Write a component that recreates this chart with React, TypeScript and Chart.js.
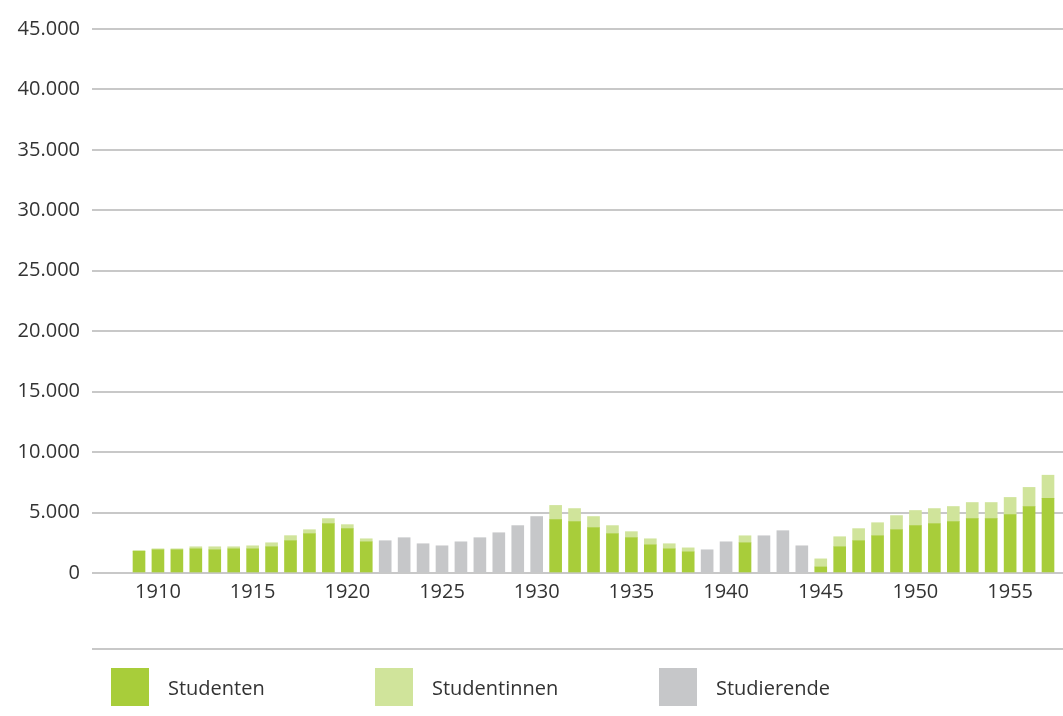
import React, { useEffect, useRef } from "react";
import { Chart, registerables } from "chart.js";

Chart.register(...registerables);

const years: number[] = [];
for (let y = 1909; y <= 1957; y++) years.push(y);

const studenten: (number | null)[] = [
  1800, 1920, 1920, 2000, 1920, 2000, 2000, 2170, 2670, 3250, 4080, 3670, 2580,
  null, null, null, null, null, null, null, null, null,
  4420, 4250, 3750, 3250, 2920, 2330, 2000, 1750,
  null, null, 2500, null, null, null,
  500, 2170, 2670, 3080, 3580, 3920, 4080, 4250, 4500, 4500, 4830, 5500, 6170,
];

const studentinnen: (number | null)[] = [
  50, 80, 80, 170, 250, 170, 250, 330, 420, 330, 420, 330, 250,
  null, null, null, null, null, null, null, null, null,
  1170, 1080, 920, 670, 500, 500, 420, 330,
  null, null, 580, null, null, null,
  670, 830, 1000, 1080, 1170, 1250, 1250, 1250, 1330, 1330, 1420, 1580, 1920,
];

const studierende: (number | null)[] = [
  null, null, null, null, null, null, null, null, null, null, null, null, null,
  2670, 2920, 2420, 2250, 2580, 2920, 3330, 3920, 4670,
  null, null, null, null, null, null, null, null,
  1920, 2580, null, 3080, 3500, 2250,
  null, null, null, null, null, null, null, null, null, null, null, null, null,
];

const xTickYears = [1910, 1915, 1920, 1925, 1930, 1935, 1940, 1945, 1950, 1955];

const seriesNames = ["Studenten", "Studentinnen", "Studierende"];
const seriesColors = ["#a8cd3a", "#d0e49b", "#c6c7c9"];

const FONT = "'Open Sans', 'DejaVu Sans', sans-serif";

function toPoints(arr: (number | null)[]) {
  const out: { x: number; y: number }[] = [];
  arr.forEach((v, i) => {
    if (v !== null) out.push({ x: years[i], y: v });
  });
  return out;
}

function fmt(v: number) {
  return String(v).replace(/\B(?=(\d{3})+(?!\d))/g, ".");
}

export default function App() {
  const ref = useRef<HTMLCanvasElement>(null);

  useEffect(() => {
    document.body.style.margin = "0";
    const ctx = ref.current!;
    const chart = new Chart(ctx, {
      type: "bar",
      data: {
        datasets: [studenten, studentinnen, studierende].map((arr, i) => ({
          label: seriesNames[i],
          data: toPoints(arr) as any,
          backgroundColor: seriesColors[i],
          borderWidth: 0,
          barThickness: 12,
        })),
      },
      options: {
        animation: false,
        responsive: false,
        maintainAspectRatio: false,
        layout: { padding: { top: 29, bottom: 103, left: 0, right: 0 } },
        plugins: { legend: { display: false }, tooltip: { enabled: false } },
        scales: {
          x: {
            type: "linear",
            stacked: true,
            offset: false,
            min: 1906.518,
            max: 1957.792,
            grid: { display: false, drawTicks: false },
            border: { display: false },
            afterBuildTicks: (scale: any) => {
              scale.ticks = xTickYears.map((v) => ({ value: v }));
            },
            afterFit: (scale: any) => {
              scale.height = 40;
            },
            ticks: {
              autoSkip: false,
              maxRotation: 0,
              padding: 7,
              color: "#333333",
              font: { family: FONT, size: 20 },
              callback: (v: any) => String(v),
            },
          },
          y: {
            stacked: true,
            min: 0,
            max: 45000,
            afterFit: (scale: any) => {
              scale.width = 92;
            },
            grid: { color: "#c8c8c8", lineWidth: 2, drawTicks: false },
            border: { display: false },
            ticks: {
              stepSize: 5000,
              padding: 12,
              color: "#333333",
              font: { family: FONT, size: 20 },
              callback: (v: any) => fmt(Number(v)),
            },
          },
        },
      },
    });
    return () => chart.destroy();
  }, []);

  const legendX = [111, 375, 659];

  return (
    <div style={{ position: "fixed", left: 0, top: 0, width: 1063, height: 716, background: "#fff" }}>
      <canvas ref={ref} width={1063} height={716} style={{ display: "block" }} />
      <div
        style={{
          position: "absolute",
          left: 92,
          top: 648,
          width: 971,
          height: 2,
          background: "#c8c8c8",
        }}
      />
      {seriesNames.map((name, i) => (
        <div
          key={name}
          style={{
            position: "absolute",
            left: legendX[i],
            top: 668,
            height: 38,
            display: "flex",
            alignItems: "center",
            fontFamily: FONT,
            fontSize: 20,
            color: "#333333",
          }}
        >
          <div style={{ width: 38, height: 38, background: seriesColors[i], marginRight: 19 }} />
          <span>{name}</span>
        </div>
      ))}
    </div>
  );
}
